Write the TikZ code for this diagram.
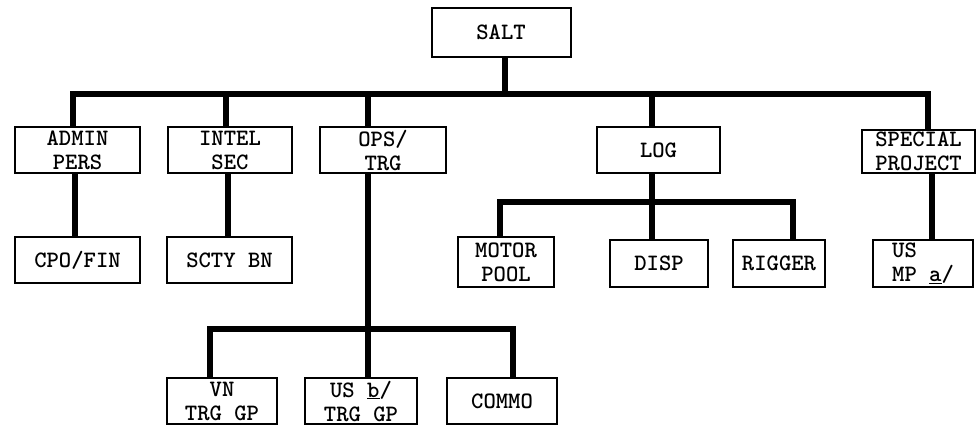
\documentclass[tikz,border=0pt]{standalone}
\usepackage{fontspec}
\begin{document}
\begin{tikzpicture}[x=1pt, y=-1pt, font=\ttfamily\bfseries\fontsize{23.5}{24}\selectfont,
    unit/.style={draw, line width=2pt, fill=white, inner sep=0pt, align=center},
    bus/.style={line width=6pt, line join=miter}]
        \useasboundingbox (0,0) rectangle (976,426);
        \node[unit, minimum width=139, minimum height=49] (salt) at (501,32) {SALT};
        \node[unit, minimum width=125, minimum height=46] (admin) at (77.5,150) {ADMIN\\PERS};
        \node[unit, minimum width=124, minimum height=46] (intel) at (230,150) {INTEL\\SEC};
        \node[unit, minimum width=126, minimum height=46] (ops) at (383,150) {OPS/\\TRG};
        \node[unit, minimum width=123, minimum height=46] (log) at (658.5,150) {LOG};
        \node[unit, minimum width=113, minimum height=43] (special) at (918.5,151.5) {SPECIAL\\PROJECT};
        \node[unit, minimum width=125, minimum height=46] (cpofin) at (77.5,260) {CPO/FIN};
        \node[unit, minimum width=125, minimum height=46] (sctybn) at (229.5,260) {SCTY BN};
        \node[unit, minimum width=96, minimum height=50] (motor) at (506,262) {MOTOR\\POOL};
        \node[unit, minimum width=98, minimum height=47] (disp) at (659,263.5) {DISP};
        \node[unit, minimum width=92, minimum height=47] (rigger) at (779,263.5) {RIGGER};
        \node[unit, minimum width=100, minimum height=47, align=left] (usmp) at (923,263.5) {US\\MP \underline{a}/};
        \node[unit, minimum width=110, minimum height=46] (vn) at (222,401) {VN\\TRG GP};
        \node[unit, minimum width=112, minimum height=46] (usb) at (361,401) {US \underline{b}/\\TRG GP};
        \node[unit, minimum width=110, minimum height=46] (commo) at (502,401) {COMMO};
        \coordinate (top) at (505,95);
        \draw[bus] ([xshift=4]salt.south) -- (top);
        \draw[bus] ([xshift=-5]admin.north) -- ++(0,-32) -| ([xshift=9.5]special.north);
        \draw[bus] ([xshift=-4]intel.north) -- ++(0,-32);
        \draw[bus] ([xshift=-15]ops.north) -- ++(0,-32);
        \draw[bus] ([xshift=-6.5]log.north) -- ++(0,-32);
        \draw[bus] ([xshift=-3]admin.south) -- ([xshift=-3]cpofin.north);
        \draw[bus] ([xshift=-2]intel.south) -- ([xshift=-1.5]sctybn.north);
        \draw[bus] ([xshift=13.5]special.south) -- ([xshift=9]usmp.north);
        \draw[bus] ([xshift=-6.5]log.south) -- ([xshift=-7]disp.north);
        \draw[bus] ([xshift=-6]motor.north) -- ++(0,-34) -| ([xshift=14]rigger.north);
        \draw[bus] ([xshift=-15]ops.south) -- ([xshift=7]usb.north);
        \draw[bus] ([xshift=-12]vn.north) -- ++(0,-48) -| ([xshift=11]commo.north);
\end{tikzpicture}
\end{document}
